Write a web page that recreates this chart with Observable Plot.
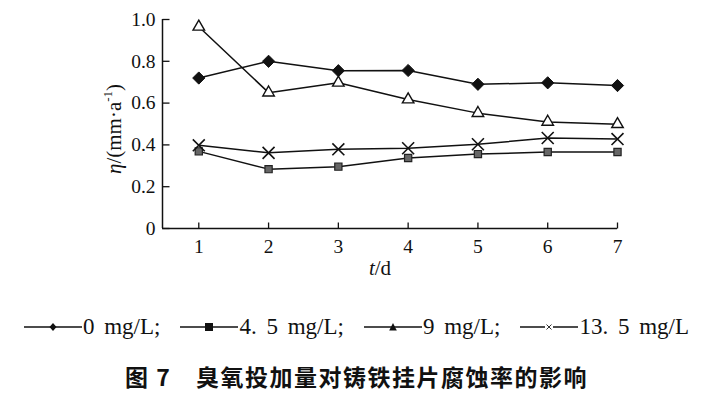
<!DOCTYPE html>
<html>
<head>
<meta charset="utf-8">
<script src="https://cdn.jsdelivr.net/npm/d3@7"></script>
<script src="https://cdn.jsdelivr.net/npm/@observablehq/plot@0.6"></script>
<style>
  body { margin: 0; background: #fff; width: 713px; }
  #chart svg { display: block; }
  #chart svg text { font-family: "Liberation Serif", "Times New Roman", serif !important; }
  #legend { display: flex; justify-content: center; align-items: center; gap: 20px; margin-top: 22px; height: 30px;
    font-family: "Liberation Serif", "Times New Roman", serif; font-size: 23px; word-spacing: 4px; color: #111; white-space: nowrap; }
  #legend .item { display: flex; align-items: center; }
  #legend .item svg { display: block; margin-right: 1px; }
  #caption { text-align: center; margin-top: 19px; height: 30px; line-height: 30px;
    font-family: "Noto Sans CJK SC", sans-serif; font-weight: bold; font-size: 23px; letter-spacing: 1.5px; color: #111; }
</style>
</head>
<body>
<div id="chart"></div>
<div id="legend"></div>
<div id="caption">图 7　臭氧投加量对铸铁挂片腐蚀率的影响</div>
<script>
const days = [1, 2, 3, 4, 5, 6, 7];
const seriesNames = ["0 mg/L", "4. 5 mg/L", "9 mg/L", "13. 5 mg/L"];
const dose0 = [0.72, 0.80, 0.755, 0.756, 0.69, 0.697, 0.684];
const dose45 = [0.369, 0.284, 0.296, 0.337, 0.356, 0.366, 0.366];
const dose9 = [0.965, 0.650, 0.697, 0.617, 0.552, 0.510, 0.499];
const dose135 = [0.398, 0.362, 0.379, 0.384, 0.403, 0.433, 0.428];
const yTicks = [0, 0.2, 0.4, 0.6, 0.8, 1.0];
const xTicks = [1, 2, 3, 4, 5, 6, 7];

const seriesValues = [dose0, dose45, dose9, dose135];
const data = [];
seriesNames.forEach((name, i) => days.forEach((d, j) => data.push({series: name, t: d, v: seriesValues[i][j]})));
const of = name => data.filter(d => d.series === name);

const font = '"Liberation Serif", "Times New Roman", serif';
const xMin = 0.48;

// inward tick symbols (drawn from the axis point into the plot)
const tickRight = {draw(ctx) { ctx.moveTo(0, 0); ctx.lineTo(7, 0); }};
const tickUp = {draw(ctx) { ctx.moveTo(0, 0); ctx.lineTo(0, -6); }};

const plot = Plot.plot({
  width: 713,
  height: 290,
  marginTop: 19,
  marginBottom: 62,
  marginLeft: 162,
  marginRight: 96,
  style: {fontFamily: font, fontSize: "19px", color: "#111", background: "#fff"},
  x: {domain: [xMin, 7]},
  y: {domain: [0, 1]},
  marks: [
    Plot.ruleY([0], {stroke: "#111", strokeWidth: 1.5}),
    Plot.ruleX([xMin], {stroke: "#111", strokeWidth: 1.5}),
    Plot.dot(xTicks, {x: d => d, y: () => 0, symbol: tickUp, stroke: "#111", strokeWidth: 1.3, r: 5}),
    Plot.dot(yTicks, {x: () => xMin, y: d => d, symbol: tickRight, stroke: "#111", strokeWidth: 1.3, r: 5}),
    Plot.axisX(xTicks, {tickSize: 0, tickPadding: 11, label: null, fontFamily: font, fontSize: 19.5, fill: "#111"}),
    Plot.axisY(yTicks, {tickSize: 0, tickPadding: 7, label: null, fontFamily: font, fontSize: 19.5, fill: "#111",
      tickFormat: d => d === 0 ? "0" : d.toFixed(1)}),
    Plot.line(data, {x: "t", y: "v", z: "series", stroke: "#111", strokeWidth: 1.5}),
    Plot.dot(of(seriesNames[0]), {x: "t", y: "v", symbol: "diamond2", r: 5.5, fill: "#111", stroke: "#111", strokeWidth: 1}),
    Plot.dot(of(seriesNames[1]), {x: "t", y: "v", symbol: "square2", r: 4.6, fill: "#666", stroke: "#222", strokeWidth: 1.2}),
    Plot.dot(of(seriesNames[2]), {x: "t", y: "v", symbol: "triangle2", r: 5.5, fill: "#fff", stroke: "#111", strokeWidth: 1.4}),
    Plot.dot(of(seriesNames[3]), {x: "t", y: "v", symbol: "times", r: 5.5, stroke: "#111", strokeWidth: 1.6})
  ]
});
document.getElementById("chart").appendChild(plot);

const svg = d3.select(plot);
// y axis label
const yl = svg.append("text")
  .attr("transform", "translate(116,129) rotate(-90)")
  .attr("text-anchor", "middle").attr("dominant-baseline", "middle")
  .attr("font-family", font).attr("font-size", 21).attr("fill", "#111");
yl.append("tspan").attr("font-style", "italic").text("η");
yl.append("tspan").text("/(mm·a");
yl.append("tspan").attr("font-size", 13).attr("dy", -7).text("-1");
yl.append("tspan").attr("dy", 7).text(")");
// x axis label
const xl = svg.append("text")
  .attr("x", 380).attr("y", 270)
  .attr("text-anchor", "middle").attr("dominant-baseline", "middle")
  .attr("font-family", font).attr("font-size", 21).attr("fill", "#111");
xl.append("tspan").attr("font-style", "italic").text("t");
xl.append("tspan").text("/d");

// legend
const legendSymbols = ["diamond", "square", "triangle", "times"];
const legend = d3.select("#legend");
seriesNames.forEach((name, i) => {
  const item = legend.append("div").attr("class", "item");
  const s = item.append("svg").attr("width", 58).attr("height", 20);
  s.append("line").attr("x1", 0).attr("x2", 58).attr("y1", 10).attr("y2", 10).attr("stroke", "#111").attr("stroke-width", 1.4);
  const g = s.append("g").attr("transform", "translate(29,10)");
  const k = legendSymbols[i];
  if (k === "diamond") g.append("path").attr("d", "M0,-4L3.5,0L0,4L-3.5,0Z").attr("fill", "#111");
  if (k === "square") g.append("rect").attr("x", -4).attr("y", -4).attr("width", 8).attr("height", 8).attr("fill", "#111");
  if (k === "triangle") g.append("path").attr("d", "M0,-4L3.8,3.5L-3.8,3.5Z").attr("fill", "#111");
  if (k === "times") { g.append("rect").attr("x", -4).attr("y", -4).attr("width", 8).attr("height", 8).attr("fill", "#fff");
    g.append("path").attr("d", "M-2.5,-2.5L2.5,2.5M2.5,-2.5L-2.5,2.5").attr("stroke", "#333").attr("stroke-width", 1); }
  item.append("span").text(name + (i < seriesNames.length - 1 ? ";" : ""));
});
</script>
</body>
</html>
